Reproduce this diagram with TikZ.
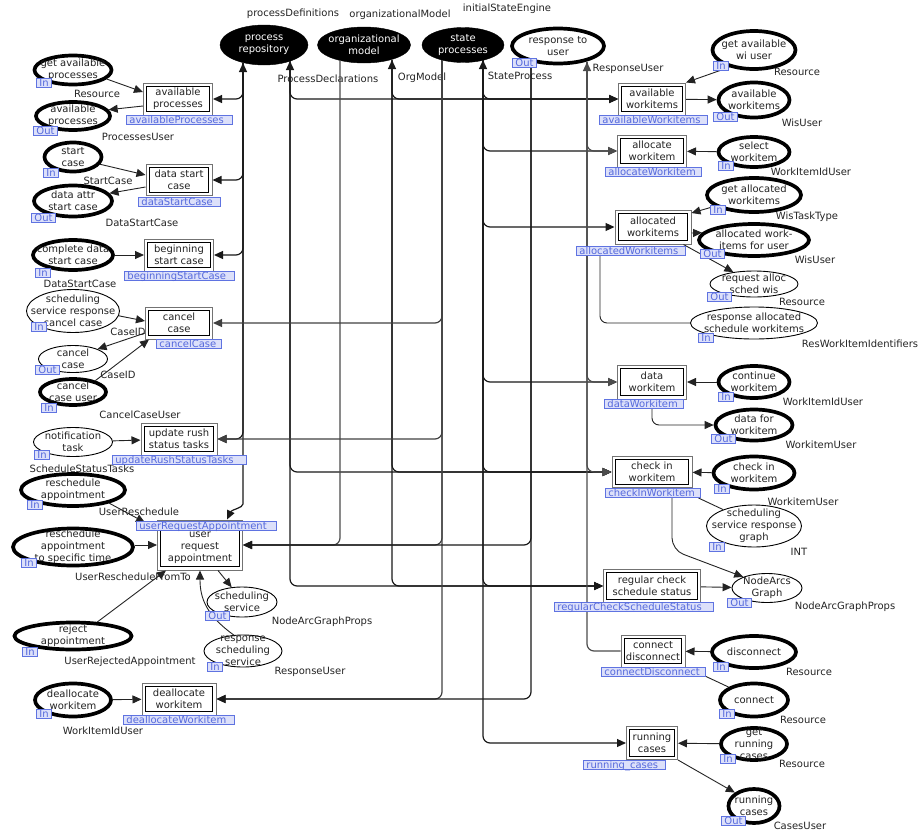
\documentclass[tikz,border=0pt]{standalone}
\usepackage{fontspec}
\setmainfont{DejaVu Sans}
\usetikzlibrary{arrows.meta,shapes.geometric}
\definecolor{tagfill}{RGB}{220,224,250}
\definecolor{tagdraw}{RGB}{95,115,225}
\definecolor{tagtext}{RGB}{85,105,220}
\definecolor{txt}{RGB}{35,35,35}
\newcommand\mkplace[7]{\node[#1,minimum width=#5,minimum height=#6] (#2) at (#3,#4) {};\node[ptext] at (#2.center) {#7};}
\newcommand\mktrans[6]{\node[trans,minimum width=#4,minimum height=#5] (#1) at (#2,#3) {#6};}
\newcommand\ptag[3]{\node[tag,anchor=north west] at (#1,#2) {#3};}
\newcommand\ttag[4]{\pgfmathsetmacro\ttw{#3-6}\node[tag,anchor=north west,text width=\ttw pt,align=left] at (#1,#2) {#4};}
\newcommand\lbl[3]{\node[lbltext] at (#1,#2) {#3};}
\begin{document}
\begin{tikzpicture}[x=1pt,y=-1pt,
  every node/.style={font=\fontsize{10}{12}\selectfont, text=txt},
  ptext/.style={align=center, inner sep=0pt},
  lbltext/.style={inner sep=0pt},
  thickp/.style={ellipse, draw=black, line width=3.7pt, fill=white, inner sep=0pt},
  thinp/.style={ellipse, draw=black, line width=0.9pt, fill=white, inner sep=0pt},
  fusp/.style={ellipse, draw=black, fill=black, inner sep=0pt},
  trans/.style={rectangle, draw=black!55, line width=1pt, fill=white, align=center, inner sep=0.5pt,
    path picture={\draw[black, line width=1.2pt]
      ([shift={(3.2pt,-3.2pt)}]path picture bounding box.north west) rectangle
      ([shift={(-3.2pt,3.2pt)}]path picture bounding box.south east);}},
  tag/.style={draw=tagdraw, fill=tagfill, text=tagtext, line width=0.8pt, inner xsep=3pt, inner ysep=0pt, text height=7.6pt, text depth=1.6pt, font=\fontsize{10}{10}\selectfont},
  tip/.style={-{Triangle[length=9pt,width=8pt]}},
  arr/.style={draw=txt, line width=0.9pt, tip},
  plain/.style={draw=txt, line width=0.9pt},
  fus/.style={draw=black!90, line width=1.2pt, rounded corners=7pt, tip},
  arrboth/.style={{Triangle[length=9pt,width=8pt]}-{Triangle[length=9pt,width=8pt]}}
]
\useasboundingbox (0,0) rectangle (922,836);
% ---------- fusion places ----------
\node[fusp,minimum width=88,minimum height=40] (pPR) at (264,45) {};
\node[ptext,text=white] at (pPR.center) {process\\repository};
\node[fusp,minimum width=93,minimum height=36] (pOM) at (364,45) {};
\node[ptext,text=white] at (pOM.center) {organizational\\model};
\node[fusp,minimum width=82,minimum height=35] (pSP) at (463,45) {};
\node[ptext,text=white] at (pSP.center) {state\\processes};
\mkplace{thickp}{pRTU}{558}{46}{92}{35}{response to\\user}
% ---------- left places ----------
\mkplace{thickp}{pGAP}{73}{70}{77}{29}{get available\\processes}
\mkplace{thickp}{pAP}{73}{116}{74}{28}{available\\processes}
\mkplace{thickp}{pSC}{73}{157}{57}{29}{start\\case}
\mkplace{thickp}{pDASC}{73}{201}{78}{31}{data attr\\start case}
\mkplace{thickp}{pCDSC}{73}{255}{80}{30}{complete data\\start case}
\mkplace{thinp}{pSSRCC}{73}{311}{93}{43}{scheduling\\service response\\cancel case}
\mkplace{thinp}{pCancel}{73}{359}{69}{27}{cancel\\case}
\mkplace{thickp}{pCCU}{73}{392}{66}{26}{cancel\\case user}
\mkplace{thinp}{pNT}{73}{442}{79}{29}{notification\\task}
\mkplace{thickp}{pRA}{73}{490}{104}{32}{reschedule\\appointment}
\mkplace{thickp}{pRAST}{73}{547}{120}{37}{reschedule\\appointment\\to specific time}
\mkplace{thickp}{pRej}{73}{636}{117}{27}{reject\\appointment}
\mkplace{thickp}{pDealloc}{73}{700}{76}{33}{deallocate\\workitem}
\mkplace{thinp}{pSS}{242}{602}{70}{30}{scheduling\\service}
\mkplace{thinp}{pRSS}{243}{651}{78}{32}{response\\scheduling\\service}
% ---------- right places ----------
\mkplace{thickp}{pGAWU}{754}{50}{83}{38}{get available\\wi user}
\mkplace{thickp}{pAW}{754}{100}{71}{35}{available\\workitems}
\mkplace{thickp}{pSW}{754}{152}{71}{30}{select\\workitem}
\mkplace{thickp}{pGAW}{754}{195}{94}{34}{get allocated\\workitems}
\mkplace{thickp}{pAWFU}{754}{240}{110}{32}{allocated work-\\items for user}
\mkplace{thinp}{pRASW}{754}{284}{88}{26}{request alloc\\sched wis}
\mkplace{thinp}{pRASWI}{754}{323}{127}{32}{response allocated\\schedule workitems}
\mkplace{thickp}{pCW}{754}{382}{71}{32}{continue\\workitem}
\mkplace{thickp}{pDFW}{754}{425}{77}{31}{data for\\workitem}
\mkplace{thickp}{pCIW}{754}{473}{81}{33}{check in\\workitem}
\mkplace{thinp}{pSSRG}{754}{526}{95}{42}{scheduling\\service response\\graph}
\mkplace{thinp}{pNAG}{767}{588}{70}{29}{NodeArcs\\Graph}
\mkplace{thickp}{pDis}{754}{652}{84}{32}{disconnect}
\mkplace{thickp}{pCon}{754}{700}{68}{33}{connect}
\mkplace{thickp}{pGRC}{754}{744}{66}{32}{get\\running\\cases}
\mkplace{thickp}{pRC}{754}{806}{51}{34}{running\\cases}
% ---------- transitions ----------
\mktrans{tAP}{178}{99}{69}{32}{available\\processes}
\mktrans{tDSC}{179}{180}{66}{31}{data start\\case}
\mktrans{tBSC}{179}{255}{69}{32}{beginning\\start case}
\mktrans{tCC}{179}{323}{67}{32}{cancel\\case}
\mktrans{tURS}{179}{439}{76}{32}{update rush\\status tasks}
\mktrans{tURA}{200}{545}{85}{50}{\\[-1pt]user\\request\\appointment}
\mktrans{tDW}{179}{699}{74}{32}{deallocate\\workitem}
\mktrans{tAW}{652}{99}{67}{32}{available\\workitems}
\mktrans{tAlW}{652}{151}{69}{32}{allocate\\workitem}
\mktrans{tAdW}{653}{227}{76}{34}{allocated\\workitems}
\mktrans{tDaW}{652}{382}{69}{34}{data\\workitem}
\mktrans{tCIW}{652}{472}{80}{31}{check in\\workitem}
\mktrans{tRCS}{652}{586}{97}{33}{regular check\\schedule status}
\mktrans{tCD}{653}{651}{64}{32}{connect\\disconnect}
\mktrans{tRC}{652}{743}{51}{33}{running\\cases}
% ---------- labels ----------
\lbl{293}{14}{processDefinitions}
\lbl{400}{15}{organizationalModel}
\lbl{507}{9}{initialStateEngine}
\lbl{328}{79}{ProcessDeclarations}
\lbl{422}{78}{OrgModel}
\lbl{520}{76}{StateProcess}
\lbl{628}{69}{ResponseUser}
\lbl{97}{94}{Resource}
\lbl{138}{137}{ProcessesUser}
\lbl{108}{181}{StartCase}
\lbl{142}{223}{DataStartCase}
\lbl{80}{284}{DataStartCase}
\lbl{128}{332}{CaseID}
\lbl{118}{375}{CaseID}
\lbl{140}{415}{CancelCaseUser}
\lbl{82}{469}{ScheduleStatusTasks}
\lbl{139}{512}{UserReschedule}
\lbl{133}{577}{UserRescheduleFromTo}
\lbl{130}{662}{UserRejectedAppointment}
\lbl{103}{731}{WorkItemIdUser}
\lbl{322}{622}{NodeArcGraphProps}
\lbl{310}{672}{ResponseUser}
\lbl{797}{72}{Resource}
\lbl{802}{123}{WisUser}
\lbl{811}{172}{WorkItemIdUser}
\lbl{807}{217}{WisTaskType}
\lbl{815}{260}{WisUser}
\lbl{802}{302}{Resource}
\lbl{860}{344}{ResWorkItemIdentifiers}
\lbl{823}{402}{WorkItemIdUser}
\lbl{821}{445}{WorkitemUser}
\lbl{803}{502}{WorkitemUser}
\lbl{799}{552}{INT}
\lbl{845}{607}{NodeArcGraphProps}
\lbl{809}{672}{Resource}
\lbl{803}{720}{Resource}
\lbl{802}{764}{Resource}
\lbl{800}{826}{CasesUser}
% ---------- fusion arcs ----------
\coordinate (A0) at (243,63);
\coordinate (B0) at (290,61);
\coordinate (C0) at (340,60);
\coordinate (D0) at (392,60);
\coordinate (E0) at (442,60);
\coordinate (F0) at (483,60);
\coordinate (G0) at (531,62);
\coordinate (H0) at (587,62);
\coordinate (Abend) at (243,497);
% A
\draw[fus,arrboth] (A0) |- (tAP.east);
\draw[fus] (A0) |- (tDSC.east);
\draw[fus] (A0) |- (tBSC.east);
\draw[fus] (A0) |- (tURS.east);
\draw[fus] (A0) -- (Abend) to[out=-90,in=65] ([xshift=27]tURA.north);
% B
\draw[fus,arrboth] (B0) |- (tAW.west);
\draw[fus] (B0) |- (tCIW.west);
\draw[fus] (B0) |- (tRCS.west);
% C
\draw[fus,draw=black!70] (C0) |- (tURA.east);
% D
\draw[fus,arrboth] (D0) |- (tAW.west);
\draw[fus] (D0) |- (tCIW.west);
\draw[fus] (D0) |- (tRCS.west);
% E
\draw[fus,draw=black!75] (E0) |- (tCC.east);
\draw[fus,draw=black!75] (E0) |- (tURS.east);
\draw[fus,draw=black!75] (E0) |- (tURA.east);
\draw[fus,draw=black!75] (E0) |- (tDW.east);
% F
\draw[fus,arrboth] (F0) |- (tAW.west);
\draw[fus] (F0) |- (tAlW.west);
\draw[fus] (F0) |- (tAdW.west);
\draw[fus] (F0) |- (tDaW.west);
\draw[fus] (F0) |- (tCIW.west);
\draw[fus] (F0) |- (tRCS.west);
\draw[fus] (F0) |- (tRC.west);
% G
\draw[fus] (G0) |- (tURA.east);
\draw[fus] (G0) |- (tDW.east);
% H
\draw[fus,draw=black!70,arrboth] (H0) |- (tAlW.west);
\draw[fus,draw=black!70] (H0) |- (tDaW.west);
\draw[fus,draw=black!70] (H0) |- (tCIW.west);
\draw[fus,draw=black!70,-] (H0) |- (tCD.west);
% ---------- local arcs, left ----------
\draw[arr] (pGAP.-15) -- ([yshift=7]tAP.west);
\draw[arr] ([yshift=-7]tAP.west) -- (pAP.10);
\draw[arr] (pSC.-15) -- ([yshift=5]tDSC.west);
\draw[arr] ([yshift=-7]tDSC.west) -- (pDASC.12);
\draw[arr] (pCDSC) -- (tBSC);
\draw[arr] (pSSRCC.-6) -- ([yshift=2]tCC.west);
\draw[arr] ([yshift=-10]tCC.west) -- (pCancel.22);
\draw[arr] (pCCU.27) -- ([xshift=4]tCC.south west);
\draw[arr] (pNT) -- (tURS);
\draw[arr] (pRA.-20) -- ([xshift=-12,yshift=-3]tURA.north west);
\draw[arr] (pRAST.east |- tURA.west) -- (tURA.west);
\draw[arr] (pRej.30) -- ([xshift=9]tURA.south west);
\draw[arr] ([xshift=18]tURA.south) -- (pSS.125);
\draw[arr] (pRSS.120) .. controls (206,615) and (200,598) .. (tURA.south);
\draw[arr] (pDealloc) -- (tDW);
% ---------- local arcs, right ----------
\draw[arr] (pGAWU.-145) -- (tAW.north east);
\draw[arr] (tAW) -- (pAW);
\draw[arr] (pSW) -- (tAlW);
\draw[arr] (pGAW.196) -- ([yshift=14]tAdW.east);
\draw[arr] ([yshift=-6]tAdW.east) -- (pAWFU.172);
\draw[arr] ([xshift=-8]tAdW.south east) -- (pRASW.150);
\draw[plain,rounded corners=7pt] (pRASWI.west) -| ([xshift=-53,yshift=-8]tAdW.south);
\draw[arr] (pCW) -- (tDaW);
\draw[arr,rounded corners=7pt] (tDaW.south) |- (pDFW.west);
\draw[arr] (pCIW) -- (tCIW);
\draw[plain] (pSSRG.152) -- ([xshift=6,yshift=-10]tCIW.south east);
\coordinate (cNAG) at (672,550);
\draw[arr,rounded corners=12pt] ([xshift=20]tCIW.south) -- (cNAG) -- (pNAG.155);
\draw[arr] (tRCS) -- (pNAG);
\draw[arr] (pDis) -- (tCD);
\draw[plain] (pCon.153) -- ([xshift=12,yshift=-5]tCD.south east);
\draw[arr] (pGRC) -- (tRC);
\draw[arr] (tRC.south east) -- (pRC.145);
% ---------- port tags ----------
\ptag{512}{58}{Out}
\ptag{36}{78}{In}
\ptag{33}{126}{Out}
\ptag{43}{168}{In}
\ptag{31}{213}{Out}
\ptag{35}{268}{In}
\ptag{31}{322}{In}
\ptag{35}{365}{Out}
\ptag{41}{403}{In}
\ptag{34}{450}{In}
\ptag{27}{500}{In}
\ptag{21}{558}{In}
\ptag{22}{647}{In}
\ptag{36}{709}{In}
\ptag{205}{611}{Out}
\ptag{207}{662}{In}
\ptag{713}{61}{In}
\ptag{713}{112}{Out}
\ptag{718}{161}{In}
\ptag{710}{205}{In}
\ptag{700}{249}{Out}
\ptag{707}{292}{Out}
\ptag{698}{333}{In}
\ptag{718}{392}{In}
\ptag{711}{434}{Out}
\ptag{714}{484}{In}
\ptag{709}{542}{In}
\ptag{727}{598}{Out}
\ptag{713}{662}{In}
\ptag{719}{709}{In}
\ptag{720}{754}{In}
\ptag{721}{816}{Out}
% ---------- transition tags ----------
\ttag{126}{115}{106}{availableProcesses}
\ttag{138}{197}{82}{dataStartCase}
\ttag{124}{271}{110}{beginningStartCase}
\ttag{156}{339}{65}{cancelCase}
\ttag{112}{455}{134}{updateRushStatusTasks}
\ttag{136}{521}{140}{userRequestAppointment}
\ttag{123}{715}{111}{deallocateWorkitem}
\ttag{599}{115}{108}{availableWorkitems}
\ttag{605}{167}{96}{allocateWorkitem}
\ttag{576}{246}{109}{allocatedWorkitems}
\ttag{604}{399}{79}{dataWorkitem}
\ttag{605}{488}{95}{checkInWorkitem}
\ttag{554}{602}{159}{regularCheckScheduleStatus}
\ttag{601}{667}{104}{connectDisconnect}
\ttag{583}{760}{82}{running\_cases}
\end{tikzpicture}
\end{document}
